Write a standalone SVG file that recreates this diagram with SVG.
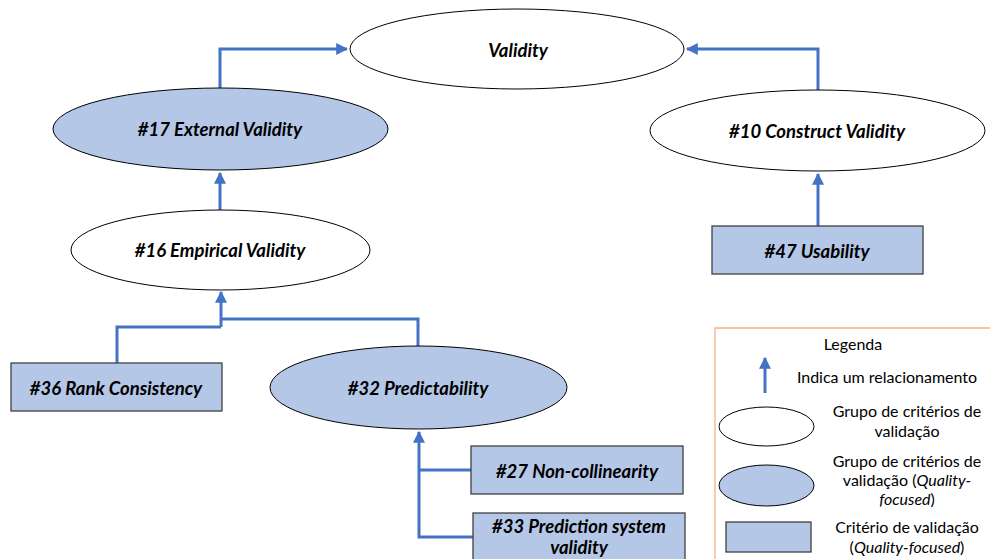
<svg xmlns="http://www.w3.org/2000/svg" width="990" height="559" viewBox="0 0 990 559">
  <defs>
    <marker id="arrow" viewBox="0 0 10 10" refX="9" refY="5" markerWidth="4" markerHeight="4" orient="auto" markerUnits="strokeWidth">
      <path d="M0,0 L10,5 L0,10 Z" fill="#4472C4"/>
    </marker>
    <style>
      .plain { fill: #FFFFFF; stroke: #000000; stroke-width: 1; }
      .quality { fill: #B4C7E7; stroke: #000000; stroke-width: 1; }
      .box { fill: #B4C7E7; stroke: #404040; stroke-width: 1.3; }
      .link { fill: none; stroke: #4472C4; stroke-width: 3; }
      .label { font-family: Lato, "Liberation Sans", sans-serif; font-weight: bold; font-style: italic; font-size: 18.5px; fill: #000000; text-anchor: middle; }
      .legend { font-family: Lato, "Liberation Sans", sans-serif; font-size: 16px; fill: #000000; text-anchor: middle; }
    </style>
  </defs>

  <!-- connectors -->
  <g id="connectors">
    <path class="link" d="M220,88 V49 H347" marker-end="url(#arrow)"/>
    <path class="link" d="M818,90 V49 H687" marker-end="url(#arrow)"/>
    <path class="link" d="M818,226 V174" marker-end="url(#arrow)"/>
    <path class="link" d="M220,210 V173" marker-end="url(#arrow)"/>
    <path class="link" d="M117,363 V327 H221" />
    <path class="link" d="M418,346 V319 H221" />
    <path class="link" d="M221,327 V292" marker-end="url(#arrow)"/>
    <path class="link" d="M471,470 H419" />
    <path class="link" d="M473,537 H419 V432" marker-end="url(#arrow)"/>
  </g>

  <g id="validity">
    <ellipse class="plain" cx="517" cy="49" rx="167" ry="40"/>
    <text class="label" x="518" y="57">Validity</text>
  </g>

  <g id="external-validity">
    <ellipse class="quality" cx="220.5" cy="129" rx="167.5" ry="41"/>
    <text class="label" x="220" y="136">#17 External Validity</text>
  </g>

  <g id="construct-validity">
    <ellipse class="plain" cx="817.5" cy="130.5" rx="167.5" ry="40.5"/>
    <text class="label" x="817" y="138">#10 Construct Validity</text>
  </g>

  <g id="empirical-validity">
    <ellipse class="plain" cx="220.5" cy="250" rx="149.5" ry="40"/>
    <text class="label" x="220" y="257">#16 Empirical Validity</text>
  </g>

  <g id="usability">
    <rect class="box" x="712" y="226" width="211" height="48"/>
    <text class="label" x="817" y="258">#47 Usability</text>
  </g>

  <g id="rank-consistency">
    <rect class="box" x="11" y="363" width="211" height="48"/>
    <text class="label" x="116" y="395">#36 Rank Consistency</text>
  </g>

  <g id="predictability">
    <ellipse class="quality" cx="418.5" cy="387.5" rx="148.5" ry="41.5"/>
    <text class="label" x="418" y="395">#32 Predictability</text>
  </g>

  <g id="non-collinearity">
    <rect class="box" x="471" y="446" width="212" height="48"/>
    <text class="label" x="577" y="478">#27 Non-collinearity</text>
  </g>

  <g id="prediction-system-validity">
    <rect class="box" x="473" y="513" width="212" height="60"/>
    <text class="label" x="579" y="533">#33 Prediction system</text>
    <text class="label" x="579" y="554">validity</text>
  </g>

  <!-- legend -->
  <g id="legend">
    <path d="M990,328 H715 V559" fill="none" stroke="#F4B183" stroke-width="1.3"/>
    <text class="legend" x="853" y="350">Legenda</text>
    <path class="link" d="M765,393 V358" marker-end="url(#arrow)"/>
    <text class="legend" x="887" y="383">Indica um relacionamento</text>
    <ellipse class="plain" cx="766.5" cy="426.5" rx="47.5" ry="19.5"/>
    <text class="legend" x="907" y="417">Grupo de critérios de</text>
    <text class="legend" x="907" y="437">validação</text>
    <ellipse class="quality" cx="766.5" cy="485.5" rx="47.5" ry="20.5"/>
    <text class="legend" x="907" y="467">Grupo de critérios de</text>
    <text class="legend" x="907" y="486">validação (<tspan font-style="italic">Quality-</tspan></text>
    <text class="legend" x="907" y="505"><tspan font-style="italic">focused</tspan>)</text>
    <rect class="box" x="726" y="522" width="85" height="30"/>
    <text class="legend" x="907" y="533">Critério de validação</text>
    <text class="legend" x="907" y="553">(<tspan font-style="italic">Quality-focused</tspan>)</text>
  </g>
</svg>
